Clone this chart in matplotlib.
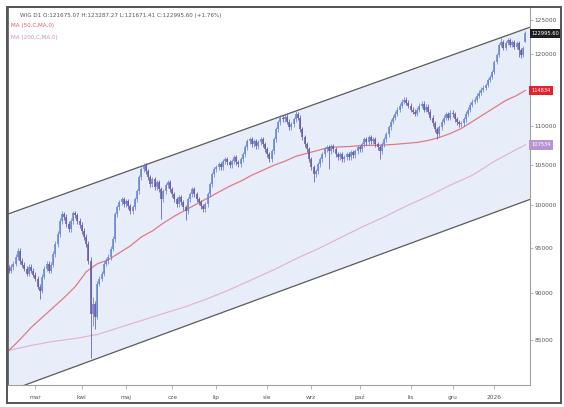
import matplotlib
matplotlib.use("Agg")
import matplotlib.pyplot as plt
import numpy as np

# ---------------- data (WIG, daily) ----------------
closes = [92410, 92850, 93190, 93970, 94650, 93520, 93080, 92630, 92080, 92850,
          92410, 91970, 91530, 90650, 90220, 91750, 92630, 93190, 92410, 93080,
          94310, 95450, 96600, 98120, 98940, 98590, 97770, 97180, 98120, 99060,
          98820, 98120, 97650, 96950, 96250, 95450, 93520, 87770, 88820, 87450,
          90980, 91530, 92080, 93190, 93520, 93970, 94880, 96020, 98940, 99780,
          100380, 100740, 100140, 100500, 99900, 99300, 99780, 100740, 101710, 103440,
          104430, 104930, 104180, 103440, 102570, 103180, 102200, 102810, 101950, 100740,
          101710, 102450, 102810, 101950, 101350, 100740, 100140, 100980, 100380, 99780,
          99300, 100740, 101350, 101950, 101350, 100740, 100380, 99900, 99540, 100140,
          101350, 102570, 103810, 104430, 104680, 105060, 104680, 105440, 105690, 105310,
          104930, 105440, 105940, 105310, 105060, 105690, 106330, 107220, 107990, 108250,
          107610, 107990, 107350, 107860, 108250, 107610, 106960, 106330, 105690, 106710,
          108250, 109560, 110480, 111140, 110880, 111280, 110610, 109820, 110220, 110880,
          111550, 111140, 109560, 108510, 107610, 106960, 105690, 104680, 103810, 104180,
          105060, 105690, 106330, 106960, 107220, 106710, 107350, 106960, 106330, 105940,
          106330, 105690, 105940, 106330, 105940, 106580, 106200, 106710, 107220, 106960,
          107610, 108250, 107860, 108510, 107990, 108250, 107610, 107220, 106710, 107610,
          108250, 108900, 109820, 110610, 111140, 111680, 112220, 112760, 113300, 113570,
          113160, 112760, 112220, 111950, 111680, 112220, 112760, 113030, 112220, 112620,
          111950, 111140, 110350, 109560, 108900, 109820, 110610, 111140, 111550, 111140,
          111810, 111550, 110880, 110480, 110220, 110350, 110880, 111680, 112220, 112890,
          113300, 113570, 114120, 114530, 114940, 115220, 115630, 116330, 116750, 117450,
          118860, 119870, 121310, 121750, 120870, 121600, 122040, 121310, 121750, 121020,
          121600, 120590, 119870, 120870, 122995.60]

highs = [93000, 93150, 93490, 94270, 94990, 94950, 93820, 93380, 92930, 93150,
         93150, 92710, 92270, 91830, 90950, 92050, 92930, 93490, 93490, 93380,
         94610, 95750, 96900, 98420, 99300, 99240, 98890, 98070, 98420, 99360,
         99360, 99120, 98420, 97950, 97250, 96550, 95750, 93970, 89500, 89120,
         91300, 91830, 92380, 93490, 93820, 94270, 95180, 96320, 99240, 100080,
         100680, 101040, 101040, 100800, 100800, 100200, 100080, 101040, 102010, 103740,
         104730, 105230, 105230, 104480, 103740, 103480, 103480, 103110, 103110, 102250,
         102010, 102750, 103110, 103110, 102250, 101650, 101040, 101280, 101280, 100680,
         100080, 101040, 101650, 102250, 102250, 101650, 101040, 100680, 100200, 100440,
         101650, 102870, 104110, 104730, 104980, 105360, 105360, 105740, 105990, 105990,
         105610, 105740, 106240, 106240, 105610, 105990, 106630, 107520, 108290, 108550,
         108550, 108290, 108290, 108160, 108550, 108550, 107910, 107260, 106630, 107010,
         108550, 109860, 110780, 111440, 111440, 111580, 111580, 110910, 110520, 111180,
         112220, 111850, 111440, 109860, 108810, 107910, 107260, 105990, 104980, 104480,
         105360, 105990, 106630, 107260, 107520, 107520, 107650, 107650, 107260, 106630,
         106630, 106630, 106240, 106630, 106630, 106880, 106880, 107010, 107520, 107520,
         107910, 108550, 108550, 108810, 108810, 108550, 108550, 107910, 107520, 107910,
         108550, 109200, 110120, 110910, 111440, 111980, 112520, 113060, 113600, 113870,
         113870, 113460, 113060, 112520, 112250, 112520, 113060, 113330, 113330, 112920,
         112920, 112250, 111440, 110650, 109860, 110120, 110910, 111440, 111850, 111850,
         112110, 112110, 111850, 111180, 110780, 110650, 111180, 111980, 112520, 113190,
         113600, 113870, 114420, 114830, 115240, 115520, 115930, 116630, 117050, 117750,
         119160, 120170, 121610, 122350, 122050, 121900, 122340, 122340, 122050, 122050,
         121900, 121900, 120890, 121170, 123287.27]

lows = [92110, 92110, 92550, 92890, 93670, 93220, 92780, 92330, 91780, 91780,
        92110, 91670, 91230, 90350, 89360, 89920, 91450, 92330, 92110, 92110,
        92780, 94010, 95150, 96300, 97820, 98290, 97470, 96880, 96880, 97820,
        98520, 97820, 97350, 96650, 95950, 95150, 93220, 83160, 86500, 86200,
        87150, 90680, 91230, 91780, 92890, 93220, 93670, 94580, 95720, 98640,
        99480, 100080, 99840, 99840, 99600, 99000, 99000, 99480, 100440, 101410,
        103140, 104130, 103880, 103140, 102270, 102270, 101900, 101900, 101650, 98350,
        100440, 101410, 102150, 101650, 101050, 100440, 99840, 99840, 100080, 99480,
        98230, 99000, 100440, 101050, 101050, 100440, 100080, 99600, 99240, 99240,
        99840, 101050, 102270, 103510, 104130, 104380, 104380, 104380, 105140, 105010,
        104630, 104630, 105140, 105010, 104760, 104760, 105390, 106030, 106920, 107690,
        107310, 107310, 107050, 107050, 107560, 107310, 106660, 106030, 105390, 105390,
        106410, 107950, 109260, 110180, 110580, 110580, 110310, 109520, 109520, 109920,
        110580, 110840, 109260, 108210, 107310, 106660, 105390, 104380, 102810, 103510,
        103880, 104760, 105390, 106030, 106660, 104430, 106410, 106660, 106030, 105640,
        105640, 105390, 105390, 105640, 105640, 105640, 105900, 105900, 106410, 106660,
        106660, 107310, 107560, 107560, 107690, 107690, 107310, 106920, 105690, 106410,
        107310, 107950, 108600, 109520, 110310, 110840, 111380, 111920, 112460, 113000,
        112860, 112460, 111920, 111650, 111380, 111380, 111920, 112460, 111920, 111920,
        111650, 110840, 110050, 109260, 108250, 108600, 109520, 110310, 110840, 110840,
        110840, 111250, 110580, 110180, 109920, 109920, 110050, 110580, 111380, 111920,
        112590, 113000, 113270, 113820, 114230, 114640, 114920, 115330, 116030, 116450,
        117150, 118560, 119570, 121010, 120570, 120570, 121300, 121010, 121010, 120720,
        120720, 119500, 119400, 119570, 121671.41]

first_open = 92700
last_open = 121675.07

ma50_bars = [0, 5, 10, 15, 20, 25, 30, 35, 40, 45, 50, 55, 60, 65, 70, 75, 80, 85,
             90, 95, 100, 105, 110, 115, 120, 125, 130, 135, 140, 145, 150, 155, 160,
             165, 170, 175, 180, 185, 190, 195, 200, 205, 210, 215, 220, 225, 230, 234]
ma50_vals = [83960, 85070, 86300, 87350, 88400, 89470, 90650, 92300, 93190, 93640,
             94430, 95220, 96250, 96950, 97880, 98700, 99420, 100140, 100860, 101590,
             102320, 102940, 103680, 104300, 104930, 105440, 106070, 106450, 106830,
             107220, 107280, 107340, 107470, 107470, 107530, 107610, 107740, 107860,
             108120, 108510, 109030, 109690, 110610, 111550, 112480, 113430, 114120, 114834]

ma200_bars = [0, 10, 20, 30, 40, 50, 60, 70, 80, 90, 100, 110, 120, 130, 140, 150,
              160, 170, 180, 190, 200, 210, 220, 230, 234]
ma200_vals = [83960, 84460, 84870, 85170, 85580, 86300, 87030, 87770, 88500, 89360,
              90330, 91420, 92520, 93750, 94880, 96140, 97410, 98590, 99900, 101100,
              102450, 103680, 105440, 106960, 107534]

# channel anchors (bar index, price)
chan_bars = [0, 234]
chan_upper = [98990, 123670]
chan_lower = [79960, 100500]

month_bars = [12, 33, 53, 74, 94, 117, 137, 159, 182, 201, 220]
month_labels = ['mar', 'kwi', 'maj', 'cze', 'lip', 'sie', 'wrz', 'paź', 'lis', 'gru', '2026']

# 115000 is hidden under the MA50 marker in the original
ytick_vals = [85000, 90000, 95000, 100000, 105000, 110000, 120000, 125000]

header = "WIG D1 O:121675.07 H:123287.27 L:121671.41 C:122995.60 (+1.76%)"

# ---------------- figure ----------------
W, H = 564, 407
fig = plt.figure(figsize=(W / 100, H / 100), dpi=100)
fig.patch.set_facecolor('white')
ax = fig.add_axes([8 / W, (H - 385) / H, (530 - 8) / W, (385 - 7) / H])
ax.set_yscale('log')
xmin, xmax = -0.45, 236.1
ymin, ymax = 80530, 126970
ax.set_xlim(xmin, xmax)
ax.set_ylim(ymin, ymax)

# channel (straight on screen -> extrapolate in log space)
def chan_at(xs, vals):
    b0, b1 = chan_bars
    l0, l1 = np.log(vals[0]), np.log(vals[1])
    return [np.exp(l0 + (l1 - l0) * (x - b0) / (b1 - b0)) for x in xs]

xs_ch = [xmin - 5, xmax + 5]
up = chan_at(xs_ch, chan_upper)
lo = chan_at(xs_ch, chan_lower)
ax.fill([xs_ch[0], xs_ch[1], xs_ch[1], xs_ch[0]], [lo[0], lo[1], up[1], up[0]],
        color='#e8eef9', lw=0, zorder=0)
ax.plot(xs_ch, up, color='#5a5a5a', lw=0.9, zorder=1)
ax.plot(xs_ch, lo, color='#5a5a5a', lw=0.9, zorder=1)

# moving averages
ax.plot(ma200_bars, ma200_vals, color='#e2b4d8', lw=0.9, zorder=2)
ax.plot(ma50_bars, ma50_vals, color='#e07a84', lw=0.9, zorder=2)

# candles
n = len(closes)
opens = [first_open] + closes[:-1]
opens[-1] = last_open
x = np.arange(n)
o = np.array(opens, float)
c = np.array(closes, float)
hi = np.array(highs, float)
lw_ = np.array(lows, float)
bull = c >= o
col_up, col_dn = '#6a86d2', '#66589f'
colors = np.where(bull, col_up, col_dn)
ax.vlines(x, lw_, hi, colors=colors, lw=0.55, zorder=3)
bot = np.minimum(o, c)
top = np.maximum(o, c)
top = np.maximum(top, bot * 1.0008)
ax.vlines(x, bot, top, colors=colors, lw=1.15, zorder=4)

# axes styling
for s in ['top', 'left']:
    ax.spines[s].set_color('#555555')
    ax.spines[s].set_linewidth(1.2)
for s in ['right', 'bottom']:
    ax.spines[s].set_color('#a0a0a0')
    ax.spines[s].set_linewidth(0.8)
ax.set_facecolor('white')

ax.yaxis.tick_right()
ax.yaxis.set_minor_locator(matplotlib.ticker.NullLocator())
ax.set_yticks(ytick_vals)
ax.set_yticklabels([str(v) for v in ytick_vals])
ax.tick_params(axis='y', which='both', length=2, width=0.5, color='#999999',
               labelsize=4.2, labelcolor='#555555', pad=1.5)
ax.set_xticks(month_bars)
ax.set_xticklabels(month_labels)
ax.tick_params(axis='x', length=3, width=0.5, color='#999999',
               labelsize=4.2, labelcolor='#555555', pad=4)

# price labels on right axis
ytr = ax.get_yaxis_transform()
lab_kw = dict(transform=ytr, ha='left', va='center', fontsize=3.7, color='white',
              zorder=10, clip_on=False)
ax.text(1.003, closes[-1], "122995.60",
        bbox=dict(boxstyle='square,pad=0.4', fc='#1e1e1e', ec='none'), **lab_kw)
ax.text(1.003, ma50_vals[-1], "114834",
        bbox=dict(boxstyle='square,pad=0.45', fc='#e3222c', ec='none'), **lab_kw)
ax.text(1.003, ma200_vals[-1], "107534",
        bbox=dict(boxstyle='square,pad=0.45', fc='#b795d4', ec='none'), **lab_kw)

# header texts
fig.text(20 / W, 1 - 15 / H, header, fontsize=4.1, color='#555555', va='center', ha='left')
fig.text(11 / W, 1 - 25 / H, "MA (50,C,MA,0)", fontsize=4.1, color='#e05a60', va='center', ha='left')
fig.text(11 / W, 1 - 37.5 / H, "MA (200,C,MA,0)", fontsize=4.1, color='#c88cc8', va='center', ha='left')

# outer frame
frame = plt.Rectangle((7 / W, (H - 403) / H), (561 - 7) / W, (403 - 7) / H,
                      transform=fig.transFigure, fill=False, ec='#555555', lw=1.4)
fig.add_artist(frame)

fig.savefig('out.png', dpi=100)
